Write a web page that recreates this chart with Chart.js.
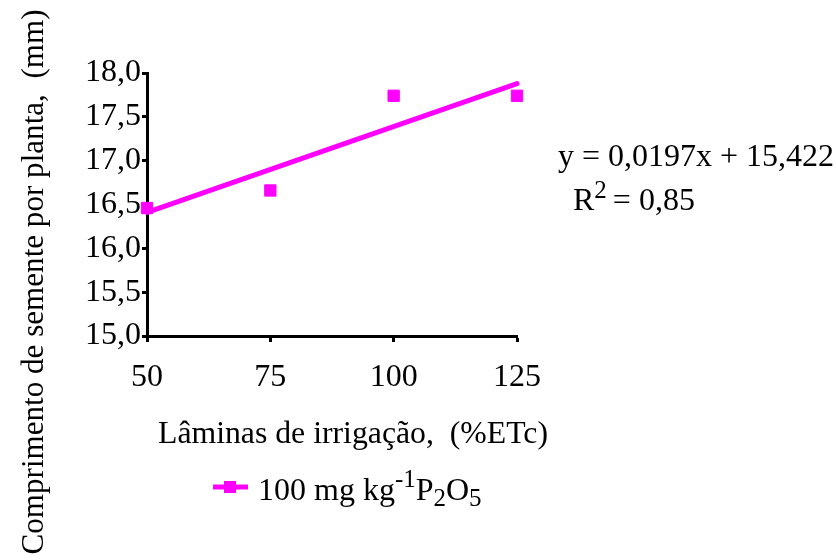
<!DOCTYPE html>
<html><head><meta charset="utf-8">
<script src="https://cdn.jsdelivr.net/npm/chart.js@4.4.1/dist/chart.umd.min.js"></script>
<style>html,body{margin:0;padding:0;background:#fff}#wrap{width:836px;height:560px}</style>
</head><body><div id="wrap"><canvas id="c" width="836" height="560"></canvas></div>
<script>
const xValues = [50, 75, 100, 125];
const yValues = [16.46, 16.66, 17.74, 17.74];
const trendX = [50, 125];
const trendY = [16.41, 17.88];
const xTicks = [50, 75, 100, 125];
const yTitle = 'Comprimento de semente por planta,  (mm)';
const xTitle = 'Lâminas de irrigação,  (%ETc)';
const eqText = 'y = 0,0197x + 15,422';
const r2Text = '= 0,85';
const legendParts = ['100 mg kg', '-1', 'P', '2', 'O', '5'];
const FONT = "'Liberation Serif', 'Times New Roman', serif";
const MAG = '#FF00FF';

const textPlugin = {
  id: 'texts',
  afterDraw(chart) {
    const ctx = chart.ctx;
    ctx.save();
    ctx.fillStyle = '#000';
    ctx.textBaseline = 'alphabetic';
    ctx.font = '32px ' + FONT;
    // axis titles
    ctx.textAlign = 'center';
    ctx.fillText(xTitle, 353, 443, 390);
    ctx.save();
    ctx.translate(43, 282);
    ctx.rotate(-Math.PI / 2);
    ctx.fillText(yTitle, 0, 0, 545);
    ctx.restore();
    ctx.textAlign = 'left';
    // equation
    ctx.fillText(eqText, 558, 166, 276);
    let x = 573;
    ctx.fillText('R', x, 210);
    x += ctx.measureText('R').width;
    ctx.font = '25px ' + FONT;
    ctx.fillText('2', x, 198);
    x += ctx.measureText('2').width + 6;
    ctx.font = '32px ' + FONT;
    ctx.fillText(r2Text, x, 210);
    // legend
    const ly = 487;
    ctx.strokeStyle = MAG;
    ctx.lineWidth = 5;
    ctx.beginPath(); ctx.moveTo(213, ly); ctx.lineTo(248, ly); ctx.stroke();
    ctx.fillStyle = MAG;
    ctx.fillRect(224, ly - 6, 12, 12);
    ctx.fillStyle = '#000';
    let lx = 258; const base = 500;
    const styles = [[32, 0], [25, -13], [32, 0], [25, 6], [32, 0], [25, 6]];
    legendParts.forEach((t, i) => {
      const [s, dy] = styles[i];
      ctx.font = s + 'px ' + FONT;
      ctx.fillText(t, lx, base + dy);
      lx += ctx.measureText(t).width;
    });
    ctx.restore();
  }
};

new Chart(document.getElementById('c'), {
  type: 'scatter',
  data: {
    datasets: [
      {
        label: 'trend',
        type: 'line',
        data: trendX.map((x, i) => ({x, y: trendY[i]})),
        borderColor: MAG,
        borderWidth: 5,
        pointRadius: 0,
        fill: false,
        clip: false,
        borderCapStyle: 'round'
      },
      {
        label: '100 mg kg-1 P2O5',
        data: xValues.map((x, i) => ({x, y: yValues[i]})),
        backgroundColor: MAG,
        borderColor: MAG,
        borderWidth: 1,
        pointStyle: 'rect',
        pointRadius: 8,
        clip: false
      }
    ]
  },
  plugins: [textPlugin],
  options: {
    responsive: false,
    animation: false,
    devicePixelRatio: 1,
    layout: { padding: { left: 0, right: 319, top: 73, bottom: 107 } },
    plugins: { legend: { display: false }, tooltip: { enabled: false } },
    scales: {
      x: {
        type: 'linear', min: 50, max: 125,
        afterBuildTicks: (s) => { s.ticks = xTicks.map(v => ({value: v})); },
        afterFit: (s) => { s.height = 117; },
        grid: { drawOnChartArea: false, tickLength: 6, tickWidth: 3, color: '#000' },
        border: { color: '#000', width: 3 },
        ticks: { color: '#000', font: { family: FONT, size: 32 }, padding: 16, maxRotation: 0 },
        title: { display: false }
      },
      y: {
        type: 'linear', min: 15, max: 18,
        ticks: { stepSize: 0.5, color: '#000', font: { family: FONT, size: 32 }, padding: 1,
          callback: (v) => v.toFixed(1).replace('.', ',') },
        afterFit: (s) => { s.width = 147; },
        grid: { drawOnChartArea: false, tickLength: 5, tickWidth: 3, color: '#000' },
        border: { color: '#000', width: 3 },
        title: { display: false }
      }
    }
  }
});
</script>
</body></html>
